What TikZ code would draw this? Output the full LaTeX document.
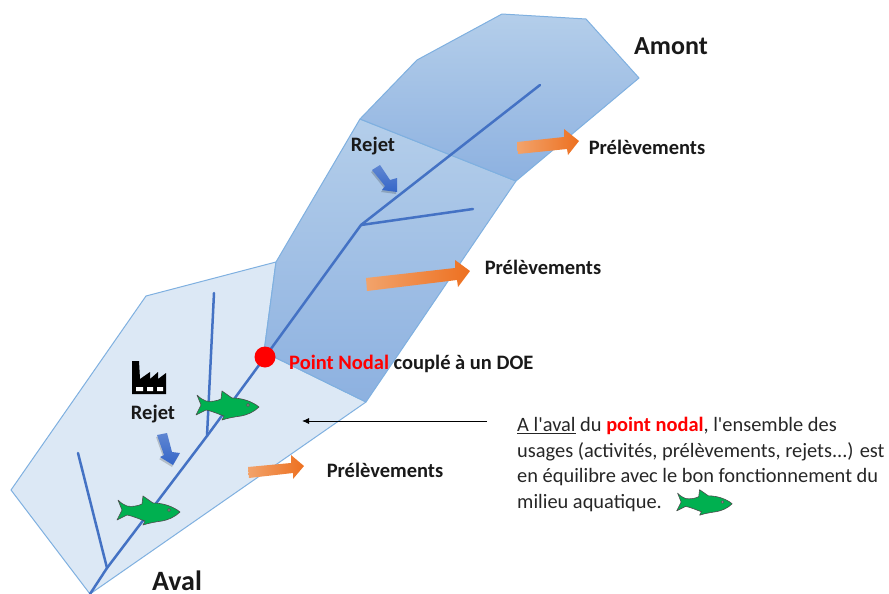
\documentclass[tikz,border=0pt]{standalone}
\usepackage{fontspec}
\setmainfont{Carlito}[Ligatures=ResetAll]
\font\straightapos="Carlito:-liga" at 20.4pt
\usetikzlibrary{arrows.meta,shadings}
\definecolor{zoneedge}{HTML}{7FB0E0}
\definecolor{zonelight}{HTML}{DCE8F5}
\definecolor{zonetop}{HTML}{B4CEEA}
\definecolor{zonebottom}{HTML}{8DB1E0}
\definecolor{river}{HTML}{4472C4}
\definecolor{fishgreen}{HTML}{00B050}
\definecolor{orangeA}{HTML}{F2A36B}
\definecolor{orangeB}{HTML}{ED7020}
\definecolor{blueA}{HTML}{5F86D2}
\definecolor{blueB}{HTML}{3566C8}
\tikzset{
  x=1pt,y=-1pt,
  zone/.style={draw=zoneedge,line width=1pt,line join=round},
  riverline/.style={draw=river,line width=2.5pt,line cap=round,line join=round},
  orangearrow/.style={left color=orangeA,right color=orangeB,draw=none},
  bluearrow/.style={top color=blueA,bottom color=blueB,draw=none},
  softshadow/.style={fill=black,opacity=.18,draw=none},
  label/.style={font=\fontsize{20.5}{24}\selectfont\bfseries,inner sep=0pt,text=black!90},
  bigger/.style={font=\fontsize{26}{30}\selectfont\bfseries,inner sep=0pt,text=black!90},
  para/.style={font=\fontsize{20.4}{24}\selectfont,inner sep=0pt,anchor=west,text=black!85},
  fish/.pic={
    \draw[fill=fishgreen,draw=black!70,line width=.6pt,line join=round]
      (-30,-10) .. controls (-27,-7) and (-24,-5) .. (-21,-4)
      .. controls (-16,-3) and (-10,-4) .. (-6,-6)
      -- (-5,-14) -- (5,-7)
      .. controls (16,-7) and (26,-3) .. (32,2)
      .. controls (27,7) and (20,10) .. (14,11)
      .. controls (7,12) and (1,13) .. (-5,15)
      -- (-3,11) .. controls (-9,9) and (-15,6) .. (-21,5)
      -- (-31,10) -- (-26,0) -- cycle;
    \draw[fill=black!40,draw=black!70,line width=.4pt] (21,0) circle[radius=1.5];
  }
}
\begin{document}
\begin{tikzpicture}
\useasboundingbox (0,0) rectangle (889,594);
% zones
\path[zone,fill=zonelight] (11,490) -- (146,296) -- (276,262) -- (264,352) -- (366,402) -- (90,594) -- cycle;
\path[zone,shade,top color=zonetop,bottom color=zonebottom] (360,119) -- (516,181) -- (366,402) -- (264,352) -- (276,262) -- cycle;
\path[zone,shade,top color=zonetop,bottom color=zonebottom] (360,119) -- (417,60) -- (502,14) -- (586,19) -- (639,78) -- (516,181) -- cycle;
% river
\coordinate (mouth) at (90,594);
\coordinate (junctionA) at (107,568);
\coordinate (junctionB) at (207,436);
\coordinate (nodal) at (265,357);
\coordinate (junctionC) at (361,225);
\coordinate (source) at (540,85);
\draw[riverline] (mouth) -- (junctionA) -- (junctionB) -- (nodal) -- (junctionC) -- (source);
\coordinate (branchC) at (473,209);
\coordinate (branchB) at (214,293);
\coordinate (branchA) at (78,453);
\draw[riverline] (junctionC) -- (branchC);
\draw[riverline] (junctionB) -- (branchB);
\draw[riverline] (junctionA) -- (branchA);
% orange arrows
\path[orangearrow] (517,142) -- (564,137) -- (564,129) -- (579,141) -- (568,155) -- (567,149) -- (518,154) -- cycle;
\path[orangearrow] (366,278) -- (455,268) -- (455,260) -- (470,271) -- (458,287) -- (457,280) -- (367,291) -- cycle;
\path[orangearrow] (248,467) -- (291,463) -- (291,455) -- (304,466) -- (293,479) -- (293,473) -- (249,478) -- cycle;
% blue arrows
\path[softshadow] (371,172) -- (379,167) -- (389,182) -- (396,180) -- (396,194) -- (381,192) -- (384,188) -- cycle;
\path[bluearrow] (372,170) -- (380,165) -- (390,180) -- (397,178) -- (397,192) -- (382,190) -- (385,186) -- cycle;
\path[softshadow] (156,437) -- (166,435) -- (171,454) -- (179,455) -- (172,467) -- (159,459) -- (163,457) -- cycle;
\path[bluearrow] (157,435) -- (167,433) -- (172,452) -- (180,453) -- (173,465) -- (160,457) -- (164,455) -- cycle;
% fish
\pic at (227,405) {fish};
\pic at (148,510) {fish};
\pic[scale=.88] at (704,502) {fish};
% factory
\fill[black] (132,394) -- (132,361) -- (139,361) -- (140,379) -- (150,372) -- (150,379) -- (158,372) -- (158,379) -- (166,373) -- (166,394) -- cycle;
\fill[white] (136,387) rectangle (143,391) (147,387) rectangle (153,391) (157,387) rectangle (163,391);
% nodal point
\node[circle,fill=red,draw=none,minimum size=21pt,inner sep=0pt] (pointnodal) at (nodal) {};
% labels
\node[bigger] (amont) at (671,46) {Amont};
\node[bigger,font=\fontsize{28}{30}\selectfont\bfseries] (aval) at (177,581) {Aval};
\node[label] (prelA) at (647,147) {Prélèvements};
\node[label] (prelB) at (543,267) {Prélèvements};
\node[label] (prelC) at (385,470) {Prélèvements};
\node[label] (rejetA) at (373,146) {Rejet};
\node[label] (rejetB) at (153,414) {Rejet};
\node[label,anchor=west] (nodaltext) at (289,364) {\textcolor{red}{Point Nodal} couplé à un DOE};
\node[para] (lineA) at (517,426) {\underline{A l{\straightapos'}aval} du \textcolor{red}{\textbf{point nodal}}, l{\straightapos'}ensemble des};
\node[para] (lineB) at (517,452) {usages (activités, prélèvements, rejets...) est};
\node[para] (lineC) at (517,477) {en équilibre avec le bon fonctionnement du};
\node[para] (lineD) at (517,503) {milieu aquatique.};
% pointer
\coordinate (pointerstart) at (487,421);
\coordinate (pointerend) at (302,421);
\draw[-{Latex[length=7pt,width=6pt]},line width=.9pt,black] (pointerstart) -- (pointerend);
\end{tikzpicture}
\end{document}
